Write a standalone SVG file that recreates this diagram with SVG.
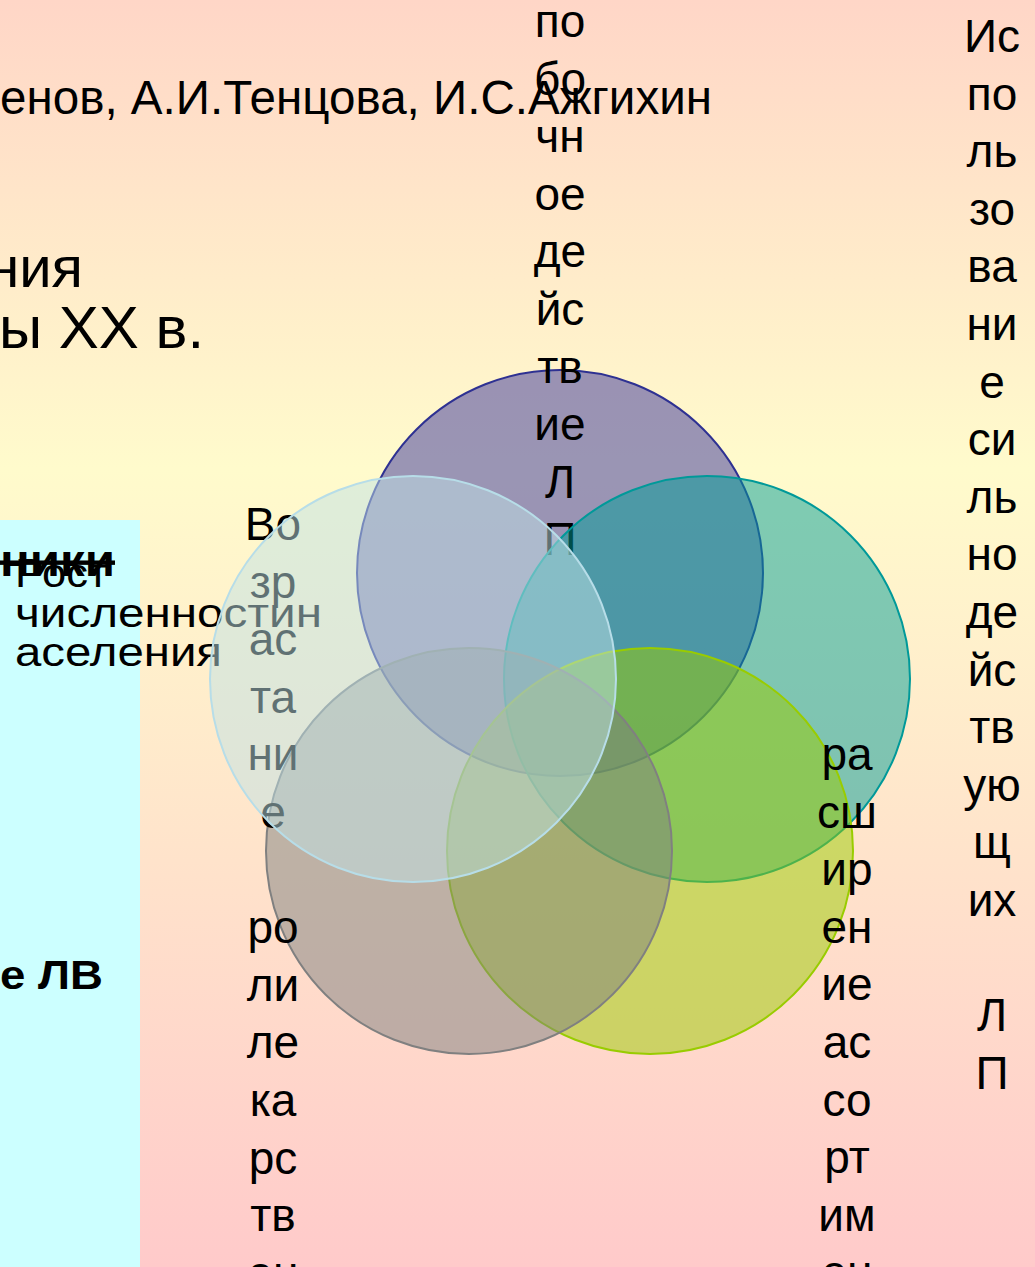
<svg xmlns="http://www.w3.org/2000/svg" width="1035" height="1267" viewBox="0 0 1035 1267">
<defs>
<linearGradient id="bg" x1="0" y1="0" x2="0" y2="1">
<stop offset="0" stop-color="#FFD6C7"/>
<stop offset="0.37" stop-color="#FFFBCC"/>
<stop offset="1" stop-color="#FFCACA"/>
</linearGradient>
</defs>
<style>
text{font-family:"Liberation Sans",Arial,sans-serif;fill:#000}
.v{font-size:46px;text-anchor:middle}
.c{stroke-width:2}
</style>
<rect x="0" y="0" width="1035" height="1267" fill="url(#bg)"/>
<rect x="0" y="520" width="140" height="747" fill="#CCFFFF"/>
<g id="header">
<text x="0" y="114" font-size="48" textLength="712" lengthAdjust="spacingAndGlyphs">енов, А.И.Тенцова, И.С.Ажгихин</text>
<text x="83" y="287" font-size="58" text-anchor="end">ния</text>
<text x="-1" y="348" font-size="60">ы XX в.</text>
</g>
<g id="left-box">
<text x="0" y="576" font-size="44" font-weight="bold" text-decoration="line-through" textLength="115" lengthAdjust="spacingAndGlyphs">ники</text>
<text x="0" y="989" font-size="40" font-weight="bold" textLength="103" lengthAdjust="spacingAndGlyphs">е ЛВ</text>
</g>
<g id="c1">
<circle class="c" cx="560" cy="573" r="203" fill="#35309C" fill-opacity="0.5" stroke="#2E3192"/>
<text class="v" x="560" y="37">по<tspan x="560" dy="57.6">бо</tspan><tspan x="560" dy="57.6">чн</tspan><tspan x="560" dy="57.6">ое</tspan><tspan x="560" dy="57.6">де</tspan><tspan x="560" dy="57.6">йс</tspan><tspan x="560" dy="57.6">тв</tspan><tspan x="560" dy="57.6">ие</tspan><tspan x="560" dy="57.6">Л</tspan><tspan x="560" dy="57.6">П</tspan></text>
</g>
<g id="c2">
<circle class="c" cx="707" cy="679" r="203" fill="#009E98" fill-opacity="0.5" stroke="#009999"/>
</g>
<g id="c3">
<circle class="c" cx="650" cy="851" r="203" fill="#99CC00" fill-opacity="0.5" stroke="#99CC00"/>
<text class="v" x="847" y="770">ра<tspan x="847" dy="57.6">сш</tspan><tspan x="847" dy="57.6">ир</tspan><tspan x="847" dy="57.6">ен</tspan><tspan x="847" dy="57.6">ие</tspan><tspan x="847" dy="57.6">ас</tspan><tspan x="847" dy="57.6">со</tspan><tspan x="847" dy="57.6">рт</tspan><tspan x="847" dy="57.6">им</tspan><tspan x="847" dy="57.6">ен</tspan></text>
</g>
<g id="c4">
<circle class="c" cx="469" cy="851" r="203" fill="#7D8080" fill-opacity="0.5" stroke="#808080"/>
<text class="v" x="273" y="540">Во<tspan x="273" dy="57.6">зр</tspan><tspan x="273" dy="57.6">ас</tspan><tspan x="273" dy="57.6">та</tspan><tspan x="273" dy="57.6">ни</tspan><tspan x="273" dy="57.6">е</tspan><tspan x="273" dy="115.2">ро</tspan><tspan x="273" dy="57.6">ли</tspan><tspan x="273" dy="57.6">ле</tspan><tspan x="273" dy="57.6">ка</tspan><tspan x="273" dy="57.6">рс</tspan><tspan x="273" dy="57.6">тв</tspan><tspan x="273" dy="57.6">ен</tspan></text>
<text x="15" y="587" font-size="40" textLength="93" lengthAdjust="spacingAndGlyphs">Рост</text>
<text x="15" y="627" font-size="40" textLength="307" lengthAdjust="spacingAndGlyphs">численностин</text>
<text x="15" y="666" font-size="40" textLength="207" lengthAdjust="spacingAndGlyphs">аселения</text>
</g>
<g id="c5">
<circle class="c" cx="413" cy="679" r="203" fill="#BFE2E6" fill-opacity="0.5" stroke="#B7DDE8"/>
<text class="v" x="992" y="52">Ис<tspan x="992" dy="57.6">по</tspan><tspan x="992" dy="57.6">ль</tspan><tspan x="992" dy="57.6">зо</tspan><tspan x="992" dy="57.6">ва</tspan><tspan x="992" dy="57.6">ни</tspan><tspan x="992" dy="57.6">е</tspan><tspan x="992" dy="57.6">си</tspan><tspan x="992" dy="57.6">ль</tspan><tspan x="992" dy="57.6">но</tspan><tspan x="992" dy="57.6">де</tspan><tspan x="992" dy="57.6">йс</tspan><tspan x="992" dy="57.6">тв</tspan><tspan x="992" dy="57.6">ую</tspan><tspan x="992" dy="57.6">щ</tspan><tspan x="992" dy="57.6">их</tspan><tspan x="992" dy="115.2">Л</tspan><tspan x="992" dy="57.6">П</tspan></text>
</g>
<g id="connectors"/>
</svg>
